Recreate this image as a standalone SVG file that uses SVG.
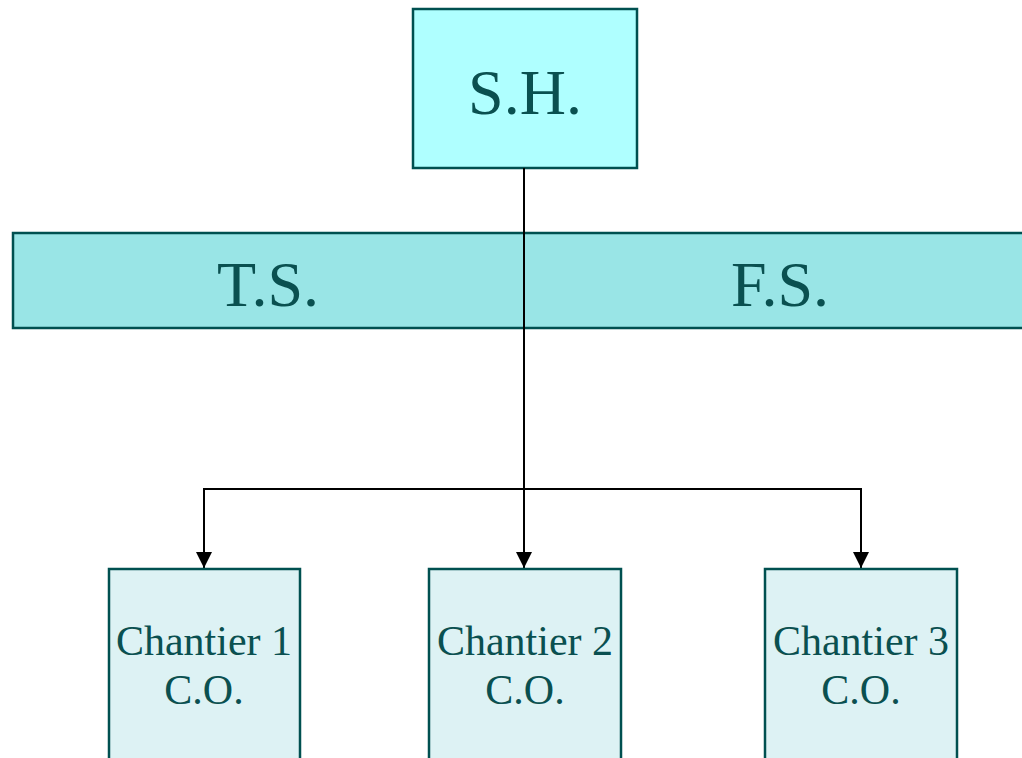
<svg xmlns="http://www.w3.org/2000/svg" width="1022" height="758" viewBox="0 0 1022 758">
<defs>
<style>
.box{stroke:#005050;stroke-width:2.5}
.lbl{font-family:"Liberation Serif","Times New Roman",serif;fill:#0A5050;text-anchor:middle}
.big{font-size:64px}
.sm{font-size:42px}
.con{stroke:#000;stroke-width:2;fill:none}
</style>
<marker id="ah" viewBox="0 0 10 10" refX="10" refY="5" markerWidth="16" markerHeight="16" markerUnits="userSpaceOnUse" orient="auto">
<path d="M0,0 L10,5 L0,10 Z" fill="#000"/>
</marker>
</defs>
<rect width="1022" height="758" fill="#fff"/>
<g id="band">
<rect class="box" x="13" y="233" width="1015" height="95" fill="#99E5E6"/>
<text class="lbl big" x="268" y="306">T.S.</text>
<text class="lbl big" x="780" y="306">F.S.</text>
</g>
<g id="sh">
<rect class="box" x="413" y="9" width="224" height="159" fill="#AFFFFF"/>
<text class="lbl big" x="525" y="114">S.H.</text>
</g>
<g id="connectors">
<path class="con" d="M524,168 V568" marker-end="url(#ah)"/>
<path class="con" d="M204,568 V489 H861 V568"/>
<path class="con" d="M204,489 V568" marker-end="url(#ah)"/>
<path class="con" d="M861,489 V568" marker-end="url(#ah)"/>
</g>
<g id="c1">
<rect class="box" x="109" y="569" width="191" height="200" fill="#DDF2F4"/>
<text class="lbl sm" x="204" y="655">Chantier 1</text>
<text class="lbl sm" x="204" y="704">C.O.</text>
</g>
<g id="c2">
<rect class="box" x="429" y="569" width="192" height="200" fill="#DDF2F4"/>
<text class="lbl sm" x="525" y="655">Chantier 2</text>
<text class="lbl sm" x="525" y="704">C.O.</text>
</g>
<g id="c3">
<rect class="box" x="765" y="569" width="192" height="200" fill="#DDF2F4"/>
<text class="lbl sm" x="861" y="655">Chantier 3</text>
<text class="lbl sm" x="861" y="704">C.O.</text>
</g>
</svg>
